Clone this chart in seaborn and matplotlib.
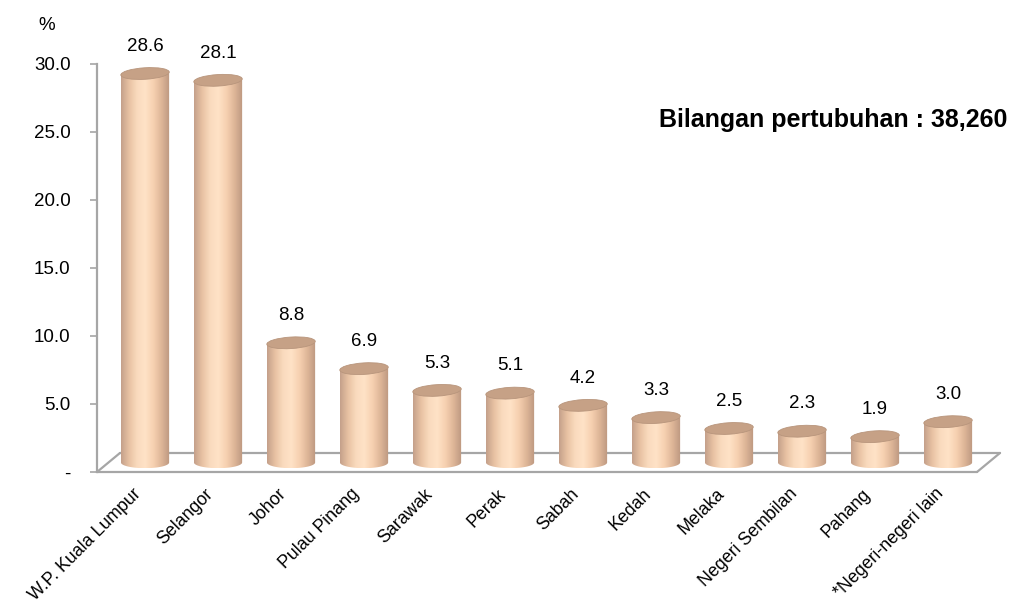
import numpy as np
import pandas as pd
import matplotlib
matplotlib.use("Agg")
import matplotlib.pyplot as plt
import matplotlib.transforms as mtransforms
import seaborn as sns
from matplotlib.path import Path
from matplotlib.patches import Ellipse, PathPatch
from matplotlib.colors import LinearSegmentedColormap

# ---------------- data ----------------
states = ["W.P. Kuala Lumpur", "Selangor", "Johor", "Pulau Pinang", "Sarawak",
          "Perak", "Sabah", "Kedah", "Melaka", "Negeri Sembilan", "Pahang",
          "*Negeri-negeri lain"]
percent = [28.6, 28.1, 8.8, 6.9, 5.3, 5.1, 4.2, 3.3, 2.5, 2.3, 1.9, 3.0]
ytick_values = [0, 5, 10, 15, 20, 25, 30]
ytick_labels = ["-", "5.0", "10.0", "15.0", "20.0", "25.0", "30.0"]
total_label = "Bilangan pertubuhan : 38,260"
unit_label = "%"

# ---------------- style ----------------
sns.set_theme(style="white")
plt.rcParams['font.family'] = ['Liberation Sans', 'DejaVu Sans']
plt.rcParams['text.color'] = 'black'

W, H = 1014, 606
fig = plt.figure(figsize=(W / 100, H / 100), dpi=100)
ax = fig.add_axes([97 / W, (H - 472) / H, 903 / W, 408 / H])

df = pd.DataFrame({"state": states, "pct": percent})
sns.barplot(data=df, x="state", y="pct", color="#F8D6B8", width=0.66,
            saturation=1, ax=ax, zorder=2, linewidth=0)

ax.set_xlim(-0.658, 11.712)
ax.set_ylim(0, 30)

grey = "#A6A6A6"
# 3D floor (parallelogram)
depth_dx, depth_dy = 0.315, 1.4
x0, x1 = -0.658, 11.712 - depth_dx
floor = dict(color=grey, lw=1.6, clip_on=False, zorder=1)
ax.plot([x0, x1], [0, 0], **floor)
ax.plot([x0 + depth_dx, x1 + depth_dx], [depth_dy, depth_dy], **floor)
ax.plot([x0, x0 + depth_dx], [0, depth_dy], **floor)
ax.plot([x1, x1 + depth_dx], [0, depth_dy], **floor)

# cylinder shading
d = 0.7          # mid-depth offset of bars
ry = 0.42        # vertical radius of ellipses (data units)
body_cmap = LinearSegmentedColormap.from_list(
    "body", ["#C4A08A", "#E8C2A3", "#FADBBE", "#FFE2C6", "#F6D0B0", "#DDB597", "#BC9780"])
grad = np.linspace(0, 1, 256).reshape(1, -1)

for p in list(ax.patches):
    xl = p.get_x()
    w = p.get_width()
    h = p.get_height()
    p.set_y(d)
    p.set_clip_on(False)
    xc = xl + w / 2
    rx = w / 2
    top = h + d
    t = np.linspace(np.pi, 2 * np.pi, 60)
    verts = [(xl, top)]
    verts += [(xc + rx * np.cos(a), d + ry * np.sin(a)) for a in t]
    verts += [(xl + w, top), (xl, top)]
    path = Path(verts)
    clip = PathPatch(path, transform=ax.transData, facecolor="none", edgecolor="none")
    ax.add_patch(clip)
    im = ax.imshow(grad, cmap=body_cmap, aspect="auto",
                   extent=[xl, xl + w, d - ry, top], zorder=2.5,
                   interpolation="bilinear")
    im.set_clip_path(clip)
    # slightly tilted top ellipse, sized in inches, centred on the bar top
    tr = fig.dpi_scale_trans + mtransforms.ScaledTranslation(xc, top, ax.transData)
    ax.add_patch(Ellipse((0, 0), 0.485, 0.115, angle=3.5, transform=tr,
                         facecolor="#C6A186", edgecolor="#B8957C", lw=0.6,
                         zorder=3, clip_on=False))

for i, v in enumerate(percent):
    ax.text(i, v + d + 2.0, f"{v:.1f}", ha="center", va="center",
            fontsize=13.5, color="black", zorder=4, clip_on=False)

# axes styling
for s in ["top", "right", "bottom"]:
    ax.spines[s].set_visible(False)
ax.spines["left"].set_color(grey)
ax.spines["left"].set_linewidth(1.6)
ax.set_yticks(ytick_values)
ax.set_yticklabels(ytick_labels, fontsize=13.5)
ax.tick_params(axis="y", left=True, length=5, width=1.2, color=grey, pad=14,
               labelcolor="black")
ax.tick_params(axis="x", bottom=False, pad=8, labelcolor="black")
ax.set_xticks(range(len(states)))
ax.set_xticklabels(states, rotation=45, ha="right", va="center",
                   rotation_mode="anchor", fontsize=12.8)
off = mtransforms.ScaledTranslation(-7 / 100, 0, fig.dpi_scale_trans)
for lab in ax.get_xticklabels():
    lab.set_transform(lab.get_transform() + off)
ax.set_xlabel("")
ax.set_ylabel("")

fig.text(38 / W, 1 - 25 / H, unit_label, fontsize=13.5, ha="left", va="center")
fig.text(659 / W, 1 - 120 / H, total_label, fontsize=18, fontweight="bold",
         ha="left", va="center")

fig.savefig("out.png", dpi=100, facecolor="white")
